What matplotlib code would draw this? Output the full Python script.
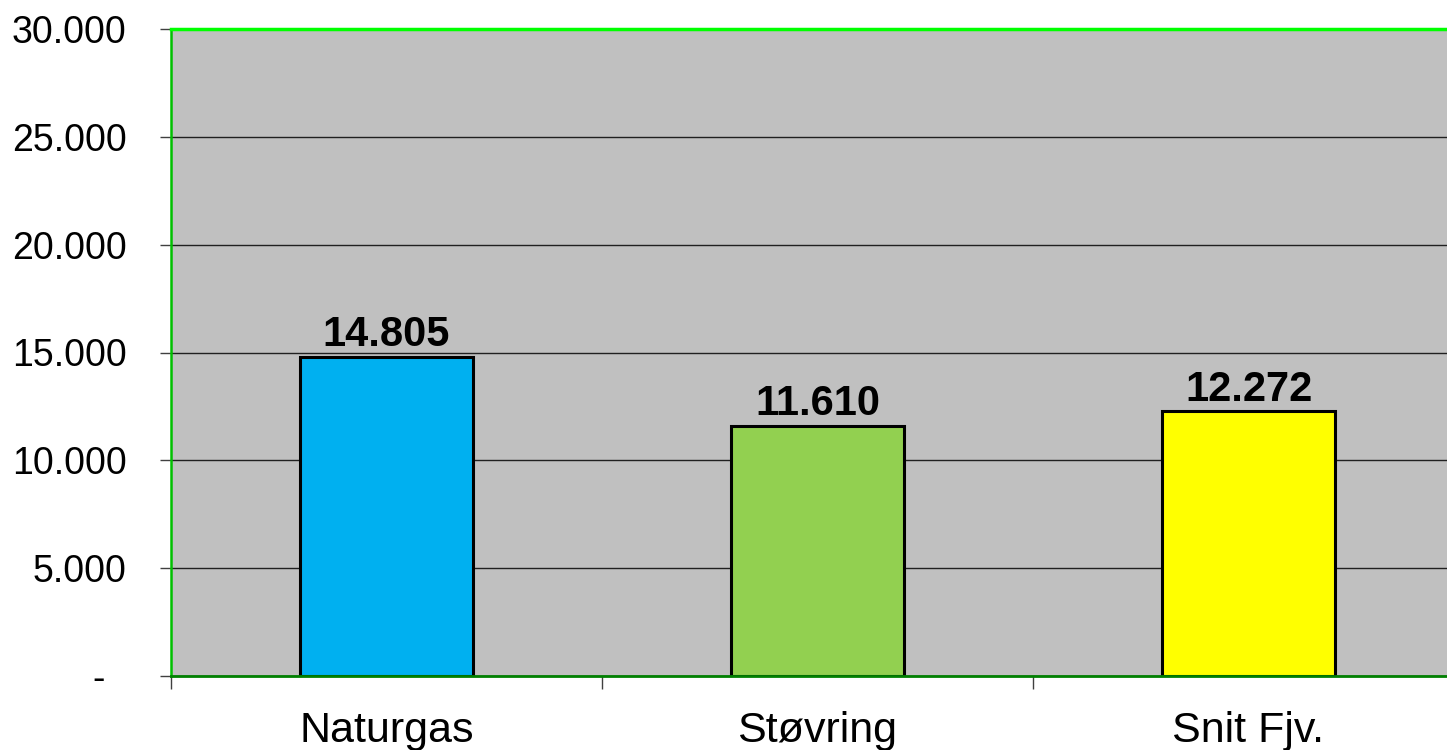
import matplotlib
matplotlib.use("Agg")
import matplotlib.pyplot as plt
from matplotlib.ticker import FixedLocator, FuncFormatter

categories = ["Naturgas", "Støvring", "Snit Fjv."]
values = [14805, 11610, 12272]
colors = ["#00B0F0", "#92D050", "#FFFF00"]
yticks = [0, 5000, 10000, 15000, 20000, 25000, 30000]

plt.rcParams['font.family'] = ['Liberation Sans', 'DejaVu Sans']

W, H = 1447, 750
fig = plt.figure(figsize=(W / 100, H / 100), dpi=100)
left, right, top, bottom = 171, 1464, 29, 676
ax = fig.add_axes([left / W, (H - bottom) / H, (right - left) / W, (bottom - top) / H])
ax.set_facecolor("#C0C0C0")

x = list(range(len(categories)))
ax.bar(x, values, width=0.40, color=colors, edgecolor="black", linewidth=2.2, zorder=3)

ax.set_xlim(-0.5, len(categories) - 0.5)
ax.set_ylim(0, 30000)

ax.yaxis.set_major_locator(FixedLocator(yticks))
def fmt(v, pos):
    if v == 0:
        return "-  "
    return f"{int(v):,}".replace(",", ".")
ax.yaxis.set_major_formatter(FuncFormatter(fmt))
ax.grid(axis="y", color="#202020", linewidth=1.0, zorder=1)

ax.set_xticks(x)
ax.set_xticklabels(categories)
ax.set_xticks([i - 0.5 for i in range(len(categories) + 1)], minor=True)
ax.tick_params(axis="x", which="major", length=0, pad=25, labelsize=31)
ax.tick_params(axis="x", which="minor", length=9, width=1, color="#404040", direction="out")
ax.tick_params(axis="y", which="major", length=8, width=1, color="#404040", pad=24, labelsize=27)

ax.spines["right"].set_visible(False)
ax.spines["top"].set_color("#00FF00")
ax.spines["top"].set_linewidth(2.5)
ax.spines["left"].set_color("#00C000")
ax.spines["left"].set_linewidth(1.8)
ax.spines["bottom"].set_color("#008000")
ax.spines["bottom"].set_linewidth(2.0)
for sp in ax.spines.values():
    sp.set_zorder(4)

for xi, v in zip(x, values):
    ax.annotate(f"{v:,}".replace(",", "."), (xi, v), xytext=(0, 1), textcoords="offset points",
                ha="center", va="bottom", fontsize=30, fontweight="bold", zorder=5)

fig.savefig("out.png", dpi=100)
